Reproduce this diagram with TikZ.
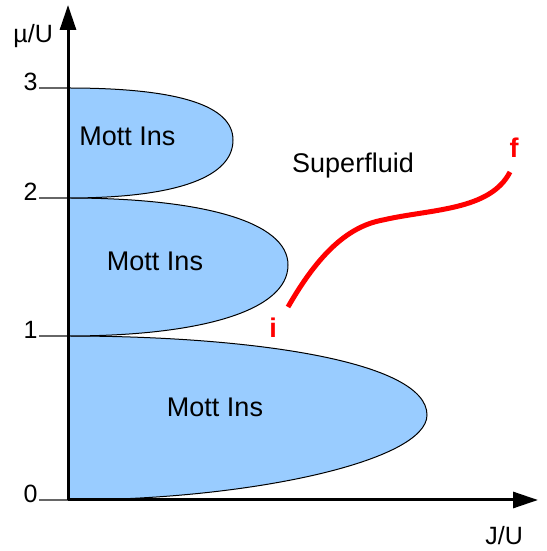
\documentclass[tikz,border=0pt]{standalone}
\usepackage{fontspec}
\setmainfont{Liberation Sans}
\usetikzlibrary{arrows.meta}
\definecolor{mottblue}{HTML}{99CCFF}
\tikzstyle{lobe} = [draw=black, line width=0.5pt, fill=mottblue]
\tikzstyle{axis} = [line width=1.5pt, -{Triangle[length=12.5pt, width=8pt]}]
\tikzstyle{tick} = [draw=black!60, line width=0.6pt]
\tikzstyle{phase} = [font=\fontsize{13.5}{16}\selectfont, anchor=base, inner sep=0pt]
\tikzstyle{ticklabel} = [font=\fontsize{12.5}{15}\selectfont, anchor=base east, inner sep=0pt]
\tikzstyle{endlabel} = [font=\bfseries\fontsize{13.5}{16}\selectfont, text=red, anchor=base, inner sep=0pt]

\begin{document}
\begin{tikzpicture}[x=0.5pt, y=0.5pt]
\useasboundingbox (0,0) rectangle (546,551);

% Mott lobes
\draw [lobe] (68,51) -- (68,215) .. controls (250,215) and (427,190) .. (427,136)
  .. controls (427,90) and (250,51) .. (68,51);
\draw [lobe] (68,215) -- (68,353) .. controls (200,353) and (288,330) .. (288,286)
  .. controls (288,240) and (200,215) .. (68,215);
\draw [lobe] (68,353) -- (68,463) .. controls (180,463) and (233,445) .. (233,411)
  .. controls (233,375) and (180,353) .. (68,353);

% Ticks
\coordinate (origin) at (68,51);
\foreach \name/\y in {0/51, 1/215, 2/353, 3/463} {
  \coordinate (tick\name) at (68,\y);
  \draw [tick] (39,\y) -- (tick\name);
  \node (lab\name) [ticklabel] at (38,\y-3) {\name};
}

% Axes
\coordinate (ytip) at (68,546);
\coordinate (xtip) at (538,51);
\draw [axis] (origin) -- (ytip);
\draw [axis] (origin) -- (xtip);
\node (ylabel) [ticklabel, anchor=base west] at (13,508) {µ/U};
\node (xlabel) [ticklabel, anchor=base west] at (485,6) {J/U};

% Phase labels
\node (mott3) [phase] at (127.5,405) {Mott Ins};
\node (mott2) [phase] at (155,280) {Mott Ins};
\node (mott1) [phase] at (215,134) {Mott Ins};
\node (sf) [phase] at (353,378) {Superfluid};

% Path from i to f
\coordinate (start) at (288,244);
\coordinate (stop) at (510,379);
\draw [red, line width=2.5pt] (start) .. controls (320,300) and (350,325) .. (383,331)
  .. controls (430,342) and (490,340) .. (stop);
\node (ilabel) [endlabel] at (273,213) {i};
\node (flabel) [endlabel] at (514,393) {f};

\end{tikzpicture}
\end{document}
